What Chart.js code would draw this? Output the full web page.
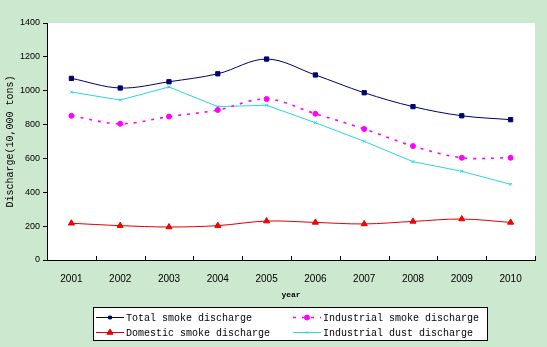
<!DOCTYPE html>
<html>
<head>
<meta charset="utf-8">
<script src="https://cdn.jsdelivr.net/npm/chart.js"></script>
<style>
  html, body { margin: 0; padding: 0; background: #cce8cf; }
  #wrap { width: 547px; height: 347px; position: relative; }
</style>
</head>
<body>
<div id="wrap"><canvas id="smokeChart" width="547" height="347"></canvas></div>
<script>
// Data
const years = ['2001', '2002', '2003', '2004', '2005', '2006', '2007', '2008', '2009', '2010'];
const totalSmoke = [1073, 1016, 1053, 1100, 1187, 1093, 988, 906, 852, 829];
const industrialSmoke = [852, 805, 847, 886, 951, 864, 774, 673, 604, 604];
const domesticSmoke = [217, 203, 195, 203, 230, 222, 213, 228, 242, 222];
const industrialDust = [992, 945, 1022, 906, 914, 811, 701, 581, 524, 447];
const yTicks = [0, 200, 400, 600, 800, 1000, 1200, 1400];

const monoFont = '"Liberation Mono", "DejaVu Sans Mono", monospace';
const sansFont = '"Liberation Sans", Arial, sans-serif';

// white plot area + inward x tick marks
const plotBackground = {
  id: 'plotBackground',
  beforeDraw(chart) {
    const { ctx, chartArea } = chart;
    ctx.save();
    ctx.fillStyle = '#ffffff';
    ctx.fillRect(chartArea.left, chartArea.top, chartArea.right - chartArea.left, chartArea.bottom - chartArea.top);
    ctx.restore();
  },
  afterDatasetsDraw(chart) {
    const { ctx, scales } = chart;
    const x = scales.x;
    const step = (x.right - x.left) / years.length;
    ctx.save();
    ctx.strokeStyle = '#000';
    ctx.lineWidth = 1;
    ctx.beginPath();
    for (let i = 0; i <= years.length; i++) {
      const px = Math.round(x.left + i * step) + 0.5;
      ctx.moveTo(px, x.top);
      ctx.lineTo(px, x.top - 4);
    }
    ctx.stroke();
    ctx.restore();
  }
};

// boxed two-column legend like the original
const boxLegend = {
  id: 'boxLegend',
  afterDraw(chart) {
    const { ctx } = chart;
    const box = { x: 93.5, y: 307.5, w: 394, h: 33 };
    ctx.save();
    ctx.fillStyle = '#ffffff';
    ctx.fillRect(box.x, box.y, box.w, box.h);
    ctx.strokeStyle = '#000';
    ctx.lineWidth = 1;
    ctx.strokeRect(box.x, box.y, box.w, box.h);
    const slots = [
      { col: 0, row: 0 }, { col: 1, row: 0 }, { col: 0, row: 1 }, { col: 1, row: 1 }
    ];
    chart.data.datasets.forEach((ds, i) => {
      const s = slots[i];
      const x0 = s.col === 0 ? 96 : 293;
      const y0 = box.y + 10 + s.row * 15;
      ctx.strokeStyle = ds.borderColor;
      ctx.lineWidth = ds.borderWidth;
      ctx.setLineDash(ds.borderDash || []);
      ctx.beginPath();
      ctx.moveTo(x0, y0);
      ctx.lineTo(x0 + 28, y0);
      ctx.stroke();
      ctx.setLineDash([]);
      ctx.fillStyle = ds.backgroundColor;
      ctx.strokeStyle = ds.borderColor;
      ctx.lineWidth = 1;
      Chart.helpers.drawPoint(ctx, {
        pointStyle: ds.pointStyle,
        radius: ds.legendRadius,
        borderWidth: 1
      }, x0 + 14, y0);
      ctx.fillStyle = '#000';
      ctx.font = '10px ' + monoFont;
      ctx.textBaseline = 'middle';
      ctx.fillText(ds.label, x0 + 30, y0 + 0.5);
    });
    ctx.restore();
  }
};

const ctx = document.getElementById('smokeChart').getContext('2d');
new Chart(ctx, {
  type: 'line',
  data: {
    labels: years,
    datasets: [
      {
        label: 'Total smoke discharge',
        data: totalSmoke,
        borderColor: '#000070',
        backgroundColor: '#000070',
        borderWidth: 1,
        tension: 0.35,
        pointStyle: 'rect',
        pointRadius: 3,
        legendRadius: 2
      },
      {
        label: 'Industrial smoke discharge',
        data: industrialSmoke,
        borderColor: '#ff00ff',
        backgroundColor: '#ff00ff',
        borderWidth: 1.6,
        borderDash: [3, 6],
        tension: 0.35,
        pointStyle: 'circle',
        pointRadius: 2.5,
        pointBorderWidth: 1,
        legendRadius: 2.5
      },
      {
        label: 'Domestic smoke discharge',
        data: domesticSmoke,
        borderColor: '#e00000',
        backgroundColor: '#ff0000',
        borderWidth: 1,
        tension: 0.35,
        pointStyle: 'triangle',
        pointRadius: 3.5,
        legendRadius: 3.5
      },
      {
        label: 'Industrial dust discharge',
        data: industrialDust,
        borderColor: '#2ad6e0',
        backgroundColor: '#2ad6e0',
        borderWidth: 1,
        tension: 0,
        pointStyle: 'crossRot',
        pointRadius: 2,
        pointBorderWidth: 1,
        legendRadius: 1.5
      }
    ]
  },
  options: {
    responsive: false,
    animation: false,
    layout: { padding: { top: 23, right: 12, bottom: 47, left: 4 } },
    plugins: {
      legend: { display: false },
      tooltip: { enabled: false }
    },
    scales: {
      x: {
        offset: true,
        grid: { display: false, offset: true },
        border: { color: '#000', width: 1 },
        ticks: { color: '#000', font: { family: sansFont, size: 10 }, padding: 5 },
        title: {
          display: true,
          text: 'year',
          color: '#000',
          font: { family: monoFont, size: 8, weight: 'bold' },
          padding: { top: 2, bottom: 0 }
        },
        afterFit(scale) { scale.height = 40; }
      },
      y: {
        min: 0,
        max: 1400,
        afterBuildTicks(scale) { scale.ticks = yTicks.map(v => ({ value: v })); },
        grid: { drawOnChartArea: false, color: '#000', tickLength: 4 },
        border: { color: '#000', width: 1 },
        ticks: {
          color: '#000',
          font: { family: sansFont, size: 9 },
          padding: 3,
          callback: v => String(v)
        },
        title: {
          display: true,
          text: 'Discharge(10,000 tons)',
          color: '#000',
          font: { family: monoFont, size: 10 },
          padding: 0
        },
        afterFit(scale) { scale.width = 43; }
      }
    }
  },
  plugins: [plotBackground, boxLegend]
});
</script>
</body>
</html>
